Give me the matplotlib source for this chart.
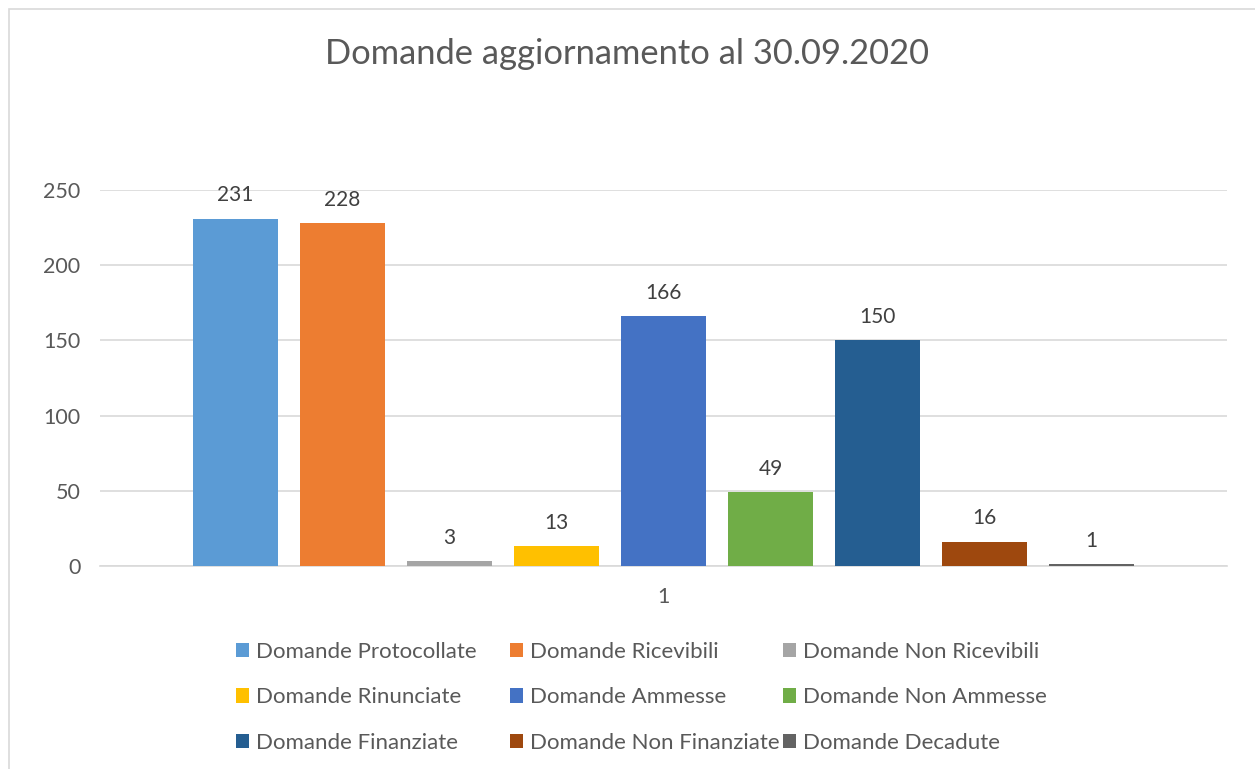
import matplotlib
matplotlib.use("Agg")
import matplotlib.pyplot as plt
from matplotlib.patches import Rectangle, Patch

series = ["Domande Protocollate", "Domande Ricevibili", "Domande Non Ricevibili",
          "Domande Rinunciate", "Domande Ammesse", "Domande Non Ammesse",
          "Domande Finanziate", "Domande Non Finanziate", "Domande Decadute"]
values = [231, 228, 3, 13, 166, 49, 150, 16, 1]
colors = ["#5B9BD5", "#ED7D31", "#A5A5A5", "#FFC000", "#4472C4", "#70AD47",
          "#255E91", "#9E480E", "#636363"]
category = "1"
yticks = [0, 50, 100, 150, 200, 250]
title = "Domande aggiornamento al 30.09.2020"

plt.rcParams['font.family'] = ['Lato', 'DejaVu Sans']
W, H = 1255, 769
fig = plt.figure(figsize=(W / 100, H / 100), dpi=100)
fig.patch.set_facecolor("white")

# chart border
fig.patches.append(Rectangle((9 / W, -0.01), 1.05, (769 - 9) / H + 0.01, transform=fig.transFigure,
                             fill=False, edgecolor="#D9D9D9", linewidth=1.2))

ax = fig.add_axes([100 / W, (H - 566) / H, (1227 - 100) / W, (566 - 190) / H])
step = 107 / 1127
bw = 85 / 1127
n = len(values)
for i, (v, c, s) in enumerate(zip(values, colors, series)):
    x = (i - (n - 1) / 2) * step
    ax.bar(x, v, width=bw, color=c, label=s, zorder=3)
    ax.text(x, v + 9, str(v), ha="center", va="bottom", fontsize=15, color="#404040")

ax.set_xlim(-0.5, 0.5)
ax.set_ylim(0, 250)
ax.set_yticks(yticks)
ax.set_xticks([0])
ax.set_xticklabels([category])
ax.tick_params(axis="both", length=0, labelsize=15.5, colors="#595959")
ax.tick_params(axis="x", pad=15)
ax.tick_params(axis="y", pad=14)
ax.grid(axis="y", color="#D9D9D9", linewidth=1.2, zorder=0)
for sp in ["top", "right", "left"]:
    ax.spines[sp].set_visible(False)
ax.spines["bottom"].set_color("#D9D9D9")
ax.spines["bottom"].set_linewidth(1.2)
ax.set_facecolor("none")

fig.text(0.5, (H - 54) / H, title, ha="center", va="center", fontsize=24.8, color="#595959")

handles = [Patch(facecolor=c, edgecolor="none") for c in colors]
col_x = [236, 510, 783]
for col in range(3):
    idx = [col, col + 3, col + 6]
    leg = fig.legend([handles[k] for k in idx], [series[k] for k in idx],
                     loc="upper left", bbox_to_anchor=(col_x[col] / W, (H - 642) / H),
                     frameon=False, fontsize=16, labelcolor="#595959",
                     handlelength=0.6, handleheight=0.6, handletextpad=0.32,
                     labelspacing=1.14, borderaxespad=0, borderpad=0)

fig.savefig("out.png", dpi=100)
